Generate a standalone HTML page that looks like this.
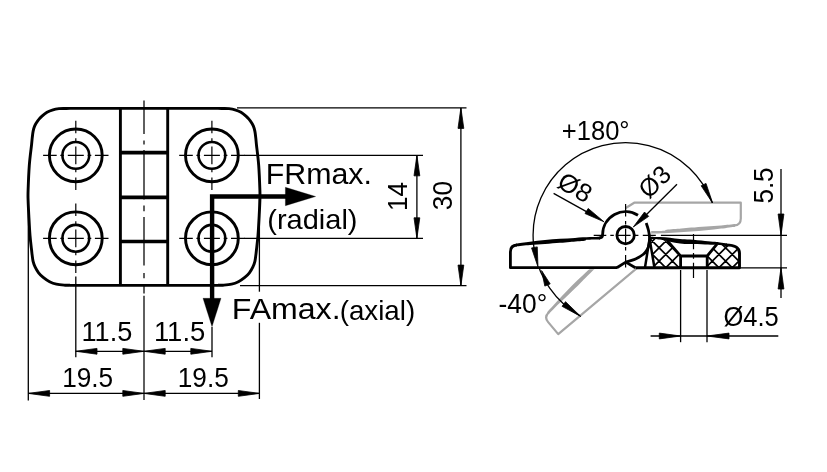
<!DOCTYPE html>
<html><head><meta charset="utf-8"><style>
html,body{margin:0;padding:0;background:#fff;}
svg{display:block;will-change:transform;}
text{font-family:"Liberation Sans",sans-serif;fill:#000;}
</style></head><body>
<svg width="827" height="472" viewBox="0 0 827 472">
<rect width="827" height="472" fill="#fff"/>
<path d="M 70,108.38 L 218,108.38 M 70,285.35 L 218,285.35 M 70,108.38 C 69.17,108.40 66.85,108.43 65.00,108.48 C 63.15,108.53 60.90,108.46 58.90,108.68 C 56.90,108.90 54.98,109.18 53.00,109.78 C 51.02,110.38 48.83,111.21 47.00,112.28 C 45.17,113.35 43.55,114.76 42.00,116.18 C 40.45,117.60 38.92,119.16 37.70,120.78 C 36.48,122.40 35.47,124.11 34.70,125.88 C 33.93,127.65 33.52,129.33 33.10,131.38 C 32.68,133.43 32.45,136.03 32.20,138.18 C 31.95,140.33 32.08,139.76 31.60,144.28 C 31.12,148.80 29.88,157.61 29.30,165.28 C 28.72,172.95 28.30,184.45 28.10,190.28 C 27.90,196.11 27.98,196.11 28.10,200.28 C 28.22,204.45 28.48,209.45 28.80,215.28 C 29.12,221.11 29.53,229.45 30.00,235.28 C 30.47,241.11 31.23,246.93 31.60,250.28 C 31.97,253.63 31.95,253.55 32.20,255.38 C 32.45,257.21 32.60,259.31 33.10,261.28 C 33.60,263.25 34.28,265.26 35.20,267.18 C 36.12,269.10 37.27,271.08 38.60,272.78 C 39.93,274.48 41.37,275.90 43.20,277.38 C 45.03,278.86 47.40,280.55 49.60,281.68 C 51.80,282.81 53.83,283.60 56.40,284.18 C 58.97,284.76 62.73,285.00 65.00,285.18 C 67.27,285.36 69.17,285.26 70.00,285.28 M 218,108.38 C 218.83,108.40 221.15,108.43 223.00,108.48 C 224.85,108.53 227.10,108.46 229.10,108.68 C 231.10,108.90 233.02,109.18 235.00,109.78 C 236.98,110.38 239.17,111.21 241.00,112.28 C 242.83,113.35 244.45,114.76 246.00,116.18 C 247.55,117.60 249.08,119.16 250.30,120.78 C 251.52,122.40 252.53,124.11 253.30,125.88 C 254.07,127.65 254.48,129.33 254.90,131.38 C 255.32,133.43 255.55,136.03 255.80,138.18 C 256.05,140.33 255.92,139.76 256.40,144.28 C 256.88,148.80 258.12,157.61 258.70,165.28 C 259.28,172.95 259.70,184.45 259.90,190.28 C 260.10,196.11 260.02,196.11 259.90,200.28 C 259.78,204.45 259.52,209.45 259.20,215.28 C 258.88,221.11 258.47,229.45 258.00,235.28 C 257.53,241.11 256.77,246.93 256.40,250.28 C 256.03,253.63 256.05,253.55 255.80,255.38 C 255.55,257.21 255.40,259.31 254.90,261.28 C 254.40,263.25 253.72,265.26 252.80,267.18 C 251.88,269.10 250.73,271.08 249.40,272.78 C 248.07,274.48 246.63,275.90 244.80,277.38 C 242.97,278.86 240.60,280.55 238.40,281.68 C 236.20,282.81 234.17,283.60 231.60,284.18 C 229.03,284.76 225.27,285.00 223.00,285.18 C 220.73,285.36 218.83,285.26 218.00,285.28" fill="none" stroke="#000" stroke-width="2.9"/>
<line x1="120.40" y1="108.35" x2="120.40" y2="285.35" stroke="#000" stroke-width="2.9" />
<line x1="167.70" y1="108.35" x2="167.70" y2="285.35" stroke="#000" stroke-width="2.9" />
<line x1="120.40" y1="152.60" x2="167.70" y2="152.60" stroke="#000" stroke-width="3.7" />
<line x1="120.40" y1="197.30" x2="167.70" y2="197.30" stroke="#000" stroke-width="3.7" />
<line x1="120.40" y1="241.50" x2="167.70" y2="241.50" stroke="#000" stroke-width="3.7" />
<line x1="144.0" y1="100.5" x2="144.0" y2="400" stroke="#000" stroke-width="1.25" stroke-dasharray="33.5 6.5 4 5.5 49.5 6 5.8 5.7 48.5 7.5 5.3 5.7 9.5 2.3 104.2"/>
<circle cx="75.8" cy="155.35" r="26.4" fill="none" stroke="#000" stroke-width="2.9"/>
<circle cx="75.8" cy="155.35" r="13.4" fill="none" stroke="#000" stroke-width="2.6"/>
<line x1="43.099999999999994" y1="155.35" x2="108.5" y2="155.35" stroke="#000" stroke-width="1.2" stroke-dasharray="13.6 3.6 3.7 3.8 16 3.8 3.7 3.6 13.6"/>
<line x1="75.8" y1="120.64999999999999" x2="75.8" y2="190.05" stroke="#000" stroke-width="1.2" stroke-dasharray="12.5 5.2 4 4.1 17.8 4.1 4 5.2 12.5"/>
<circle cx="75.8" cy="238.3" r="26.4" fill="none" stroke="#000" stroke-width="2.9"/>
<circle cx="75.8" cy="238.3" r="13.4" fill="none" stroke="#000" stroke-width="2.6"/>
<line x1="43.099999999999994" y1="238.3" x2="108.5" y2="238.3" stroke="#000" stroke-width="1.2" stroke-dasharray="13.6 3.6 3.7 3.8 16 3.8 3.7 3.6 13.6"/>
<line x1="75.8" y1="203.60000000000002" x2="75.8" y2="273.0" stroke="#000" stroke-width="1.2" stroke-dasharray="12.5 5.2 4 4.1 17.8 4.1 4 5.2 12.5"/>
<circle cx="211.9" cy="155.35" r="26.4" fill="none" stroke="#000" stroke-width="2.9"/>
<circle cx="211.9" cy="155.35" r="13.4" fill="none" stroke="#000" stroke-width="2.6"/>
<line x1="179.2" y1="155.35" x2="244.60000000000002" y2="155.35" stroke="#000" stroke-width="1.2" stroke-dasharray="13.6 3.6 3.7 3.8 16 3.8 3.7 3.6 13.6"/>
<line x1="211.9" y1="120.64999999999999" x2="211.9" y2="190.05" stroke="#000" stroke-width="1.2" stroke-dasharray="12.5 5.2 4 4.1 17.8 4.1 4 5.2 12.5"/>
<circle cx="211.9" cy="238.3" r="26.4" fill="none" stroke="#000" stroke-width="2.9"/>
<circle cx="211.9" cy="238.3" r="13.4" fill="none" stroke="#000" stroke-width="2.6"/>
<line x1="179.2" y1="238.3" x2="244.60000000000002" y2="238.3" stroke="#000" stroke-width="1.2" stroke-dasharray="13.6 3.6 3.7 3.8 16 3.8 3.7 3.6 13.6"/>
<line x1="211.9" y1="203.60000000000002" x2="211.9" y2="273.0" stroke="#000" stroke-width="1.2" stroke-dasharray="12.5 5.2 4 4.1 17.8 4.1 4 5.2 12.5"/>
<line x1="237.00" y1="107.90" x2="466.50" y2="107.90" stroke="#000" stroke-width="1.3" />
<line x1="240.00" y1="285.60" x2="466.50" y2="285.60" stroke="#000" stroke-width="1.3" />
<line x1="244.00" y1="155.35" x2="423.00" y2="155.35" stroke="#000" stroke-width="1.3" />
<line x1="244.00" y1="238.30" x2="423.00" y2="238.30" stroke="#000" stroke-width="1.3" />
<line x1="416.90" y1="155.35" x2="416.90" y2="238.30" stroke="#000" stroke-width="1.3" />
<polygon points="416.90,155.35 419.80,175.85 414.00,175.85" fill="#000" stroke="#000" stroke-width="0.8" stroke-linejoin="round"/>
<polygon points="416.90,238.30 414.00,217.80 419.80,217.80" fill="#000" stroke="#000" stroke-width="0.8" stroke-linejoin="round"/>
<line x1="460.90" y1="107.90" x2="460.90" y2="285.60" stroke="#000" stroke-width="1.3" />
<polygon points="460.90,107.90 463.80,128.40 458.00,128.40" fill="#000" stroke="#000" stroke-width="0.8" stroke-linejoin="round"/>
<polygon points="460.90,285.60 458.00,265.10 463.80,265.10" fill="#000" stroke="#000" stroke-width="0.8" stroke-linejoin="round"/>
<line x1="28.30" y1="205.00" x2="28.30" y2="400.50" stroke="#000" stroke-width="1.3" />
<line x1="75.80" y1="276.40" x2="75.80" y2="357.30" stroke="#000" stroke-width="1.3" />
<line x1="212.00" y1="327.00" x2="212.00" y2="357.30" stroke="#000" stroke-width="1.3" />
<line x1="259.40" y1="199.00" x2="259.40" y2="291.70" stroke="#000" stroke-width="1.3" />
<line x1="259.40" y1="322.80" x2="259.40" y2="399.00" stroke="#000" stroke-width="1.3" />
<line x1="75.80" y1="351.30" x2="212.00" y2="351.30" stroke="#000" stroke-width="1.3" />
<polygon points="75.80,351.30 97.00,348.40 97.00,354.20" fill="#000" stroke="#000" stroke-width="0.8" stroke-linejoin="round"/>
<polygon points="144.00,351.30 122.80,354.20 122.80,348.40" fill="#000" stroke="#000" stroke-width="0.8" stroke-linejoin="round"/>
<polygon points="144.00,351.30 165.20,348.40 165.20,354.20" fill="#000" stroke="#000" stroke-width="0.8" stroke-linejoin="round"/>
<polygon points="212.00,351.30 190.80,354.20 190.80,348.40" fill="#000" stroke="#000" stroke-width="0.8" stroke-linejoin="round"/>
<line x1="28.30" y1="393.40" x2="259.50" y2="393.40" stroke="#000" stroke-width="1.3" />
<polygon points="28.30,393.40 49.60,390.50 49.60,396.30" fill="#000" stroke="#000" stroke-width="0.8" stroke-linejoin="round"/>
<polygon points="144.00,393.40 122.80,396.30 122.80,390.50" fill="#000" stroke="#000" stroke-width="0.8" stroke-linejoin="round"/>
<polygon points="144.00,393.40 165.20,390.50 165.20,396.30" fill="#000" stroke="#000" stroke-width="0.8" stroke-linejoin="round"/>
<polygon points="259.50,393.40 238.30,396.30 238.30,390.50" fill="#000" stroke="#000" stroke-width="0.8" stroke-linejoin="round"/>
<path d="M 212.1,299 L 212.1,196.5 L 286,196.5" fill="none" stroke="#000" stroke-width="4.4"/>
<polygon points="315.60,196.50 285.40,205.70 285.40,187.30" fill="#000" stroke="#000" stroke-width="0.3" stroke-linejoin="round"/>
<polygon points="212.00,326.70 203.00,298.30 221.00,298.30" fill="#000" stroke="#000" stroke-width="0.3" stroke-linejoin="round"/>
<defs><clipPath id="gu"><path d="M 619,195 L 760,195 L 760,233.9 L 650.8,233.9 L 650.8,220 L 619,213 Z"/></clipPath><clipPath id="gl"><rect x="480" y="269.2" width="200" height="100"/></clipPath></defs>
<g clip-path="url(#gu)"><path d="M 735.20,226.70 C 732.87,227.02 726.03,228.00 721.20,228.60 C 716.37,229.20 711.20,229.80 706.20,230.30 C 701.20,230.80 696.20,231.23 691.20,231.60 C 686.20,231.97 681.20,232.22 676.20,232.50 C 671.20,232.78 665.37,233.10 661.20,233.30 C 657.03,233.50 652.87,233.63 651.20,233.70 L 651.20,231.00 C 653.37,230.95 661.62,230.92 664.20,230.70 C 666.78,230.48 663.87,230.07 666.70,229.70 C 669.53,229.33 677.12,228.85 681.20,228.50 C 685.28,228.15 687.03,227.95 691.20,227.60 C 695.37,227.25 701.20,226.75 706.20,226.40 C 711.20,226.05 716.37,225.88 721.20,225.50 C 726.03,225.12 732.87,224.33 735.20,224.10 Z" fill="#a6a6a6"/><path d="M 625.40,208.30 L 634.20,202.70 L 740.80,202.70 L 740.80,218.40 Q 740.80,225.10 734.20,225.40" fill="none" stroke="#a6a6a6" stroke-width="2.2" stroke-linejoin="round"/></g>
<g clip-path="url(#gl)"><path d="M 547.11,312.16 C 548.69,310.42 553.29,305.27 556.61,301.71 C 559.93,298.14 563.50,294.36 567.01,290.76 C 570.52,287.17 574.07,283.62 577.66,280.12 C 581.26,276.63 584.93,273.22 588.57,269.79 C 592.22,266.36 596.49,262.37 599.55,259.54 C 602.61,256.71 605.72,253.93 606.95,252.80 L 608.69,254.87 C 607.06,256.30 600.76,261.63 598.92,263.46 C 597.08,265.29 599.59,263.73 597.65,265.83 C 595.72,267.93 590.22,273.18 587.31,276.07 C 584.41,278.96 583.20,280.24 580.23,283.19 C 577.27,286.14 573.12,290.27 569.51,293.75 C 565.91,297.23 562.06,300.68 558.60,304.08 C 555.15,307.48 550.41,312.47 548.78,314.15 Z" fill="#a6a6a6"/><path d="M 643.04,255.68 L 639.90,265.62 L 558.24,334.15 L 548.15,322.12 Q 543.84,316.99 548.71,312.51" fill="none" stroke="#a6a6a6" stroke-width="2.2" stroke-linejoin="round"/></g>
<path d="M 712.24,202.81 A 92.5,92.5 0 1 0 580.05,315.71" fill="none" stroke="#000" stroke-width="1.3"/>
<path d="M 617,267.7 L 510.4,267.7 L 510.4,252 Q 510.4,245.3 517,245.0" fill="#fff" stroke="#000" stroke-width="2.8" stroke-linejoin="round"/>
<path d="M 516,243.7 C 518.33,243.38 525.17,242.40 530.00,241.80 C 534.83,241.20 540.00,240.60 545.00,240.10 C 550.00,239.60 555.00,239.17 560.00,238.80 C 565.00,238.43 570.00,238.18 575.00,237.90 C 580.00,237.62 585.83,237.30 590.00,237.10 C 594.17,236.90 598.33,236.77 600.00,236.70 L 600,239.4 C 597.83,239.45 589.58,239.48 587.00,239.70 C 584.42,239.92 587.33,240.33 584.50,240.70 C 581.67,241.07 574.08,241.55 570.00,241.90 C 565.92,242.25 564.17,242.45 560.00,242.80 C 555.83,243.15 550.00,243.65 545.00,244.00 C 540.00,244.35 534.83,244.52 530.00,244.90 C 525.17,245.28 518.33,246.07 516.00,246.30 Z" fill="#000"/>
<path d="M 599,238.05 Q 602.6,238 602.6,234.8" fill="none" stroke="#000" stroke-width="2.8"/>
<path d="M 602.60,236.00 L 602.60,234.80 A 23.1,23.1 0 0 1 637.98,215.23" fill="none" stroke="#000" stroke-width="2.8"/>
<path d="M 625.8,262.1 C 627.17,261.68 631.82,260.42 634.00,259.60 C 636.18,258.78 637.33,258.08 638.90,257.20 C 640.47,256.32 642.15,255.35 643.40,254.30 C 644.65,253.25 645.57,252.13 646.40,250.90 C 647.23,249.67 647.90,248.40 648.40,246.90 C 648.90,245.40 649.23,243.72 649.40,241.90 C 649.57,240.08 649.57,237.98 649.40,236.00 C 649.23,234.02 648.93,232.17 648.40,230.00 C 647.87,227.83 646.57,224.17 646.20,223.00" fill="none" stroke="#000" stroke-width="2.8"/>
<path d="M 616.8,267.7 L 625.8,262.1 L 635.4,267.7" fill="none" stroke="#000" stroke-width="2.8" stroke-linejoin="round"/>
<defs><clipPath id="hc"><path d="M 649.8,238.6 L 667.6,240.4 L 680.6,256.2 L 680.6,267.7 L 654.3,267.7 Z M 707.1,256.2 L 717.5,243.9 L 727,244 Q 739.4,245.5 739.4,252 L 739.4,267.7 L 707.1,267.7 Z"/></clipPath></defs>
<path d="M 517.30,230 L 472.30,275 M 481.70,230 L 526.70,275 M 530.60,230 L 485.60,275 M 495.00,230 L 540.00,275 M 543.90,230 L 498.90,275 M 508.30,230 L 553.30,275 M 557.20,230 L 512.20,275 M 521.60,230 L 566.60,275 M 570.50,230 L 525.50,275 M 534.90,230 L 579.90,275 M 583.80,230 L 538.80,275 M 548.20,230 L 593.20,275 M 597.10,230 L 552.10,275 M 561.50,230 L 606.50,275 M 610.40,230 L 565.40,275 M 574.80,230 L 619.80,275 M 623.70,230 L 578.70,275 M 588.10,230 L 633.10,275 M 637.00,230 L 592.00,275 M 601.40,230 L 646.40,275 M 650.30,230 L 605.30,275 M 614.70,230 L 659.70,275 M 663.60,230 L 618.60,275 M 628.00,230 L 673.00,275 M 676.90,230 L 631.90,275 M 641.30,230 L 686.30,275 M 690.20,230 L 645.20,275 M 654.60,230 L 699.60,275 M 703.50,230 L 658.50,275 M 667.90,230 L 712.90,275 M 716.80,230 L 671.80,275 M 681.20,230 L 726.20,275 M 730.10,230 L 685.10,275 M 694.50,230 L 739.50,275 M 743.40,230 L 698.40,275 M 707.80,230 L 752.80,275 M 756.70,230 L 711.70,275 M 721.10,230 L 766.10,275 M 770.00,230 L 725.00,275 M 734.40,230 L 779.40,275 M 783.30,230 L 738.30,275 M 747.70,230 L 792.70,275 M 796.60,230 L 751.60,275 M 761.00,230 L 806.00,275 M 809.90,230 L 764.90,275 M 774.30,230 L 819.30,275 M 823.20,230 L 778.20,275 M 787.60,230 L 832.60,275 M 836.50,230 L 791.50,275 M 800.90,230 L 845.90,275 M 849.80,230 L 804.80,275 M 814.20,230 L 859.20,275" stroke="#000" stroke-width="1.7" clip-path="url(#hc)"/>
<path d="M 649.5,236.7 C 651.25,236.77 656.58,236.93 660.00,237.10 C 663.42,237.27 666.67,237.38 670.00,237.70 C 673.33,238.02 676.67,238.68 680.00,239.00 C 683.33,239.32 685.83,239.28 690.00,239.60 C 694.17,239.92 700.83,240.53 705.00,240.90 C 709.17,241.27 712.50,241.53 715.00,241.80 C 717.50,242.07 718.00,242.23 720.00,242.50 C 722.00,242.77 725.83,243.25 727.00,243.40 L 727,246.3 C 725.83,246.08 722.00,245.27 720.00,245.00 C 718.00,244.73 717.50,244.80 715.00,244.70 C 712.50,244.60 709.17,244.50 705.00,244.40 C 700.83,244.30 694.17,244.25 690.00,244.10 C 685.83,243.95 683.33,243.90 680.00,243.50 C 676.67,243.10 673.33,242.35 670.00,241.70 C 666.67,241.05 663.42,240.05 660.00,239.60 C 656.58,239.15 651.25,239.10 649.50,239.00 Z" fill="#000"/>
<path d="M 726,244.85 Q 739.5,245.2 739.5,253 L 739.5,267.7 L 635.4,267.7" fill="none" stroke="#000" stroke-width="2.9" stroke-linejoin="round"/>
<path d="M 667.3,240.6 L 680.6,256.0 L 680.6,267.7 M 680.6,256.0 L 707.2,256.0 L 707.2,267.7 M 707.2,256.0 L 717.2,243.9" fill="none" stroke="#000" stroke-width="2.8"/>
<path d="M 645.0,267.5 L 649.6,238.6 L 654.4,267.5" fill="none" stroke="#000" stroke-width="2.5" stroke-linejoin="miter"/>
<circle cx="625.6" cy="235.2" r="8.7" fill="none" stroke="#000" stroke-width="2.8"/>
<line x1="593.7" y1="235.3" x2="657.4" y2="235.3" stroke="#000" stroke-width="1.2" stroke-dasharray="12.6 4 3.5 3.7 13.1 4.3 3.5 4.4 13"/>
<line x1="660.90" y1="235.30" x2="787.00" y2="235.30" stroke="#000" stroke-width="1.3" />
<line x1="625.6" y1="204.1" x2="625.6" y2="267.5" stroke="#000" stroke-width="1.2" stroke-dasharray="12.5 4.4 3.5 4 14.6 4 3.5 4.4 12.5"/>
<line x1="693.5" y1="234.1" x2="693.5" y2="277.9" stroke="#000" stroke-width="1.2" stroke-dasharray="15.2 3.8 5.7 3.9 15.2"/>
<line x1="739.00" y1="267.80" x2="787.00" y2="267.80" stroke="#000" stroke-width="1.3" />
<polygon points="538.00,267.00 531.55,247.92 537.25,246.88" fill="#000" stroke="#000" stroke-width="0.8" stroke-linejoin="round"/>
<polygon points="541.60,270.60 550.18,283.90 544.82,286.10" fill="#000" stroke="#000" stroke-width="0.8" stroke-linejoin="round"/>
<polygon points="580.80,316.50 562.08,306.34 565.52,301.66" fill="#000" stroke="#000" stroke-width="0.8" stroke-linejoin="round"/>
<polygon points="712.60,203.00 701.17,185.79 706.03,183.41" fill="#000" stroke="#000" stroke-width="0.8" stroke-linejoin="round"/>
<line x1="553.60" y1="193.40" x2="590.00" y2="213.60" stroke="#000" stroke-width="1.3" />
<polygon points="604.00,221.80 585.02,213.55 588.18,208.45" fill="#000" stroke="#000" stroke-width="0.8" stroke-linejoin="round"/>
<line x1="677.00" y1="184.20" x2="645.00" y2="216.00" stroke="#000" stroke-width="1.3" />
<polygon points="633.30,227.00 644.52,212.04 648.68,216.36" fill="#000" stroke="#000" stroke-width="0.8" stroke-linejoin="round"/>
<line x1="781.00" y1="169.10" x2="781.00" y2="298.00" stroke="#000" stroke-width="1.3" />
<polygon points="781.00,235.20 778.10,214.00 783.90,214.00" fill="#000" stroke="#000" stroke-width="0.8" stroke-linejoin="round"/>
<polygon points="781.00,267.80 783.90,289.00 778.10,289.00" fill="#000" stroke="#000" stroke-width="0.8" stroke-linejoin="round"/>
<line x1="680.60" y1="270.00" x2="680.60" y2="342.20" stroke="#000" stroke-width="1.3" />
<line x1="707.00" y1="270.00" x2="707.00" y2="342.20" stroke="#000" stroke-width="1.3" />
<line x1="650.60" y1="336.00" x2="778.30" y2="336.00" stroke="#000" stroke-width="1.3" />
<polygon points="680.60,336.00 659.30,338.90 659.30,333.10" fill="#000" stroke="#000" stroke-width="0.8" stroke-linejoin="round"/>
<polygon points="707.00,336.00 729.00,333.10 729.00,338.90" fill="#000" stroke="#000" stroke-width="0.8" stroke-linejoin="round"/>
<text x="81.50" y="341.30" font-size="26.8" text-anchor="start" textLength="50.8" lengthAdjust="spacingAndGlyphs">11.5</text>
<text x="153.90" y="341.20" font-size="26.8" text-anchor="start" textLength="51.4" lengthAdjust="spacingAndGlyphs">11.5</text>
<text x="62.20" y="386.90" font-size="26.8" text-anchor="start" textLength="51.0" lengthAdjust="spacingAndGlyphs">19.5</text>
<text x="177.80" y="386.90" font-size="26.8" text-anchor="start" textLength="51.0" lengthAdjust="spacingAndGlyphs">19.5</text>
<text x="265.70" y="183.60" font-size="29.8" text-anchor="start" textLength="106.2" lengthAdjust="spacingAndGlyphs">FRmax.</text>
<text x="267.30" y="229.30" font-size="27.2" text-anchor="start" textLength="90.2" lengthAdjust="spacingAndGlyphs">(radial)</text>
<text x="231.80" y="319.40" font-size="30.1" text-anchor="start" textLength="108.8" lengthAdjust="spacingAndGlyphs">FAmax.</text>
<text x="339.70" y="319.60" font-size="27.9" text-anchor="start" textLength="75.5" lengthAdjust="spacingAndGlyphs">(axial)</text>
<text x="407.30" y="210.90" font-size="26.8" text-anchor="start" transform="rotate(-90 407.30 210.90)" textLength="28.8" lengthAdjust="spacingAndGlyphs">14</text>
<text x="452.40" y="210.20" font-size="26.8" text-anchor="start" transform="rotate(-90 452.40 210.20)" textLength="29.2" lengthAdjust="spacingAndGlyphs">30</text>
<text x="773.00" y="203.60" font-size="26.8" text-anchor="start" transform="rotate(-90 773.00 203.60)" textLength="36.2" lengthAdjust="spacingAndGlyphs">5.5</text>
<text x="561.80" y="139.50" font-size="26.8" text-anchor="start" textLength="67.8" lengthAdjust="spacingAndGlyphs">+180°</text>
<text x="498.50" y="313.20" font-size="26.8" text-anchor="start" textLength="48.7" lengthAdjust="spacingAndGlyphs">-40°</text>
<text x="723.40" y="326.30" font-size="26.8" text-anchor="start" textLength="55.3" lengthAdjust="spacingAndGlyphs">Ø4.5</text>
<text x="555.80" y="186.60" font-size="25.5" text-anchor="start" transform="rotate(29.5 555.80 186.60)" textLength="34.5" lengthAdjust="spacingAndGlyphs">Ø8</text>
<text x="648.80" y="199.80" font-size="25.5" text-anchor="start" transform="rotate(-44.5 648.80 199.80)" textLength="33.5" lengthAdjust="spacingAndGlyphs">Ø3</text>
</svg>
</body></html>
